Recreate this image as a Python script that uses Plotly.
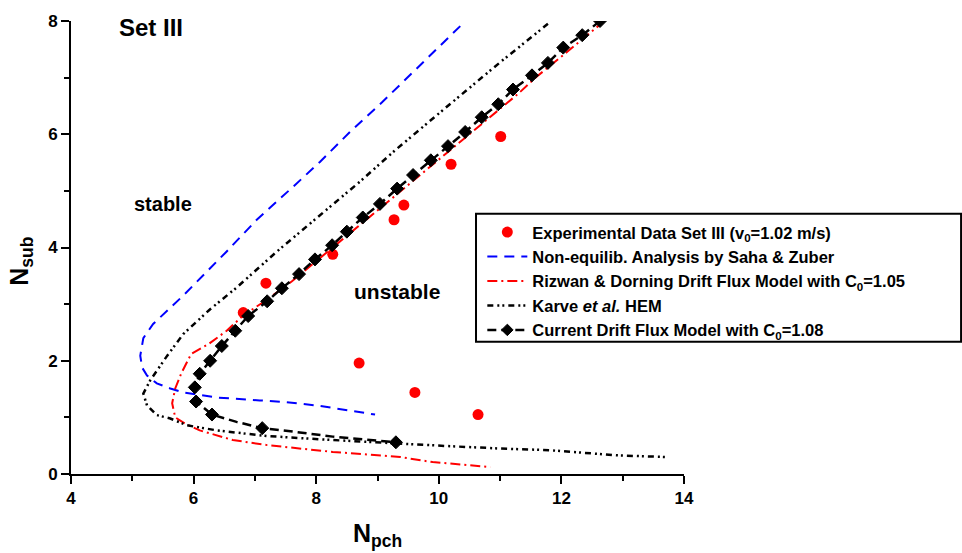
import plotly.graph_objects as go

# Experimental data, Set III (v0 = 1.02 m/s)
exp_npch = [6.81, 7.18, 8.27, 9.27, 9.43, 10.20, 11.01, 8.70, 9.61, 10.64]
exp_nsub = [2.85, 3.37, 3.88, 4.49, 4.75, 5.47, 5.96, 1.96, 1.44, 1.05]

# Non-equilibrium analysis by Saha & Zuber
saha_npch = [10.35, 10.02, 9.58, 9.07, 8.55, 8.06, 7.62, 7.03, 6.54, 6.10, 5.83,
             5.34, 5.18, 5.13, 5.16, 5.24, 5.40, 5.62, 5.83, 6.38, 6.76, 7.08,
             7.50, 8.01, 8.55, 8.96]
saha_nsub = [7.91, 7.56, 7.09, 6.56, 6.04, 5.51, 5.07, 4.49, 3.93, 3.44, 3.15,
             2.65, 2.40, 2.09, 1.88, 1.74, 1.60, 1.51, 1.44, 1.35, 1.33, 1.30,
             1.27, 1.21, 1.12, 1.05]

# Rizwan & Dorning drift flux model, C0 = 1.05
riz_npch = [12.70, 12.42, 12.10, 11.60, 11.30, 11.00, 10.50, 10.00, 9.50, 9.00,
            8.50, 8.00, 7.60, 7.20, 6.81, 6.54, 6.25, 5.96, 5.80, 5.70, 5.65,
            5.70, 5.86, 6.10, 6.64, 7.20, 8.27, 9.37, 9.90, 10.46, 10.84]
riz_nsub = [8.00, 7.74, 7.46, 7.02, 6.72, 6.45, 6.00, 5.55, 5.10, 4.66,
            4.21, 3.76, 3.40, 3.08, 2.80, 2.53, 2.30, 2.12, 1.78, 1.51, 1.25,
            1.00, 0.89, 0.77, 0.60, 0.51, 0.39, 0.30, 0.21, 0.16, 0.12]

# Karve et al. HEM
karve_npch = [11.78, 11.00, 10.18, 9.29, 8.71, 8.00, 7.36, 6.71, 6.27, 5.83,
              5.57, 5.29, 5.18, 5.24, 5.40, 5.62, 5.89, 6.38, 7.20, 8.27, 9.37,
              10.20, 11.00, 11.81, 12.90, 13.69]
karve_nsub = [7.95, 7.27, 6.53, 5.72, 5.16, 4.52, 3.93, 3.30, 2.91, 2.47,
              2.09, 1.65, 1.42, 1.21, 1.04, 0.98, 0.86, 0.77, 0.67, 0.60, 0.53,
              0.49, 0.45, 0.42, 0.33, 0.30]

# Current drift flux model, C0 = 1.08 (diamond flag marks computed points)
cur_npch = [12.63, 12.34, 12.03, 11.78, 11.52, 11.21, 10.97, 10.70, 10.43, 10.15,
            9.87, 9.58, 9.32, 9.04, 8.76, 8.50, 8.26, 7.98, 7.72, 7.44, 7.20,
            6.89, 6.68, 6.46, 6.27, 6.10, 6.02, 6.04, 6.30, 6.70, 7.12, 7.46,
            8.27, 8.83, 9.30]
cur_nsub = [8.00, 7.75, 7.53, 7.26, 7.04, 6.79, 6.53, 6.30, 6.04, 5.79,
            5.54, 5.28, 5.04, 4.77, 4.53, 4.28, 4.04, 3.79, 3.53, 3.28, 3.05,
            2.79, 2.53, 2.26, 2.00, 1.77, 1.53, 1.28, 1.05, 0.92, 0.81, 0.77,
            0.66, 0.61, 0.56]
cur_diamond = [1] * 29 + [0, 1, 0, 0, 0, 1]

FONT = "Liberation Sans, Arial, sans-serif"

fig = go.Figure()

fig.add_trace(go.Scatter(
    x=exp_npch, y=exp_nsub, mode="markers",
    name="Experimental Data Set III (v<sub>0</sub>=1.02 m/s)",
    marker=dict(color="#ff0000", size=11, symbol="circle", opacity=1),
))
fig.add_trace(go.Scatter(
    x=saha_npch, y=saha_nsub, mode="lines",
    name="Non-equilib. Analysis by Saha & Zuber",
    line=dict(color="#0000ff", width=2, dash="10px,7px"),
))
fig.add_trace(go.Scatter(
    x=riz_npch, y=riz_nsub, mode="lines",
    name="Rizwan & Dorning Drift Flux Model with C<sub>0</sub>=1.05",
    line=dict(color="#ff0000", width=2, dash="10px,4px,2px,4px"),
))
fig.add_trace(go.Scatter(
    x=karve_npch, y=karve_nsub, mode="lines",
    name="Karve <i>et al.</i> HEM",
    line=dict(color="#000000", width=2.5, dash="6px,4px,2px,3px,2px,4px"),
))
fig.add_trace(go.Scatter(
    x=cur_npch, y=cur_nsub, mode="lines+markers",
    name="Current Drift Flux Model with C<sub>0</sub>=1.08",
    line=dict(color="#000000", width=2.5, dash="9px,5px"),
    marker=dict(symbol="diamond", color="#000000", opacity=1,
                line=dict(color="#000000", width=1),
                size=[10 if d else 0 for d in cur_diamond]),
))

axis_common = dict(
    showline=True, linecolor="black", linewidth=2,
    ticks="outside", ticklen=8, tickwidth=2, tickcolor="black",
    showgrid=False, zeroline=False, dtick=2,
    tickfont=dict(family=FONT, size=17, color="black", weight="bold"),
    minor=dict(dtick=1, ticks="outside", ticklen=5, tickwidth=2, tickcolor="black"),
)
fig.update_xaxes(range=[4, 14], tick0=4, **axis_common)
fig.update_yaxes(range=[0, 8], tick0=0, **axis_common)

text_font = dict(family=FONT, color="black", weight="bold")
fig.add_annotation(x=5.31, y=7.89, text="Set III", showarrow=False,
                   font=dict(size=24, **text_font))
fig.add_annotation(x=5.50, y=4.77, text="stable", showarrow=False,
                   font=dict(size=20, **text_font))
fig.add_annotation(x=9.32, y=3.23, text="unstable", showarrow=False,
                   font=dict(size=21, **text_font))
fig.add_annotation(xref="paper", yref="paper", x=0.5, y=-0.134,
                   xanchor="center", yanchor="middle",
                   text="N<sub>pch</sub>", showarrow=False,
                   font=dict(size=25, **text_font))
fig.add_annotation(xref="paper", yref="paper", x=-0.082, y=0.47,
                   xanchor="center", yanchor="middle",
                   text="N<sub>sub</sub>", showarrow=False, textangle=-90,
                   font=dict(size=25, **text_font))

# Framed, opaque box behind the legend entries
fig.add_shape(type="rect", xref="paper", yref="paper", layer="above",
              x0=0.6607, x1=1.452, y0=0.2917, y1=0.5746,
              line=dict(color="black", width=2), fillcolor="white")

fig.update_layout(
    width=962, height=553,
    margin=dict(l=71, r=278, t=18, b=79),
    paper_bgcolor="white", plot_bgcolor="white",
    font=dict(family=FONT, color="black"),
    legend=dict(
        x=0.671, y=0.572, xanchor="left", yanchor="top",
        borderwidth=0, bgcolor="rgba(0,0,0,0)",
        font=dict(family=FONT, size=16.5, color="black", weight="bold"),
        tracegroupgap=0, itemwidth=40,
    ),
)

fig.write_html("out.html")
